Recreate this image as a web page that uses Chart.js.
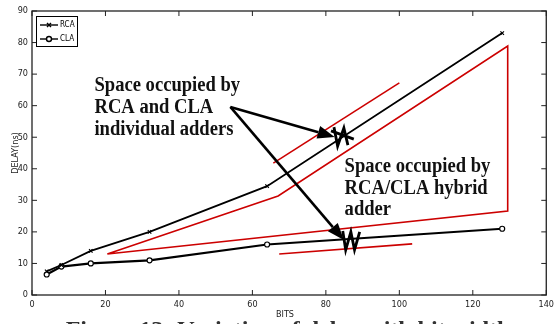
<!DOCTYPE html>
<html><head><meta charset="utf-8">
<script src="https://cdn.jsdelivr.net/npm/chart.js@4/dist/chart.umd.min.js"></script>
<style>html,body{margin:0;padding:0;background:#fff}#wrap{width:558px;height:324px;position:relative}</style>
</head><body><div id="wrap"><canvas id="c" width="558" height="324"></canvas></div>
<script>
// ---- data ----
const bits = [4, 8, 16, 32, 64, 128];
const rcaDelay = [7.5, 9.5, 14, 20, 34.5, 83];
const claDelay = [6.5, 9, 10, 11, 16, 21];
const xTicks = [0, 20, 40, 60, 80, 100, 120, 140];
const yTicks = [0, 10, 20, 30, 40, 50, 60, 70, 80, 90];
const seriesNames = ['RCA', 'CLA'];
const xTitle = 'BITS';
const yTitle = 'DELAY(ns)';
const caption = 'Figure 13: Variation of delay with bit width';
// annotations (data coordinates)
const redHybrid = [[20.5, 13], [67, 31.4], [129.5, 78.9], [129.5, 26.6], [20.5, 13]];
const redUpper = [[65.7, 41.8], [100, 67.2]];
const redLower = [[67.3, 13], [103.5, 16.2]];
const arrowFrom = [54, 59.6];
const arrowTo1 = [82.4, 50.1];
const arrowTo2 = [84.9, 17.4];
const zig1 = [[82.2, 53.2], [83.2, 47.2], [84.9, 52.9], [86.0, 47.5]];
const zig1b = [[81.4, 52.0], [87.6, 49.4]];
const zig2 = [[84.6, 20.3], [85.4, 14.3], [86.8, 20.0], [87.8, 14.3], [89.2, 20.0]];
const text1 = ['Space occupied by', 'RCA and CLA', 'individual adders'];
const text1Pos = [17, 64.6];
const text2 = ['Space occupied by', 'RCA/CLA hybrid', 'adder'];
const text2Pos = [85.1, 39];

const narrow = "'Liberation Sans Narrow','DejaVu Sans Condensed',sans-serif";
const serif = "'Liberation Serif','DejaVu Serif',serif";

const overlay = {
  id: 'overlay',
  afterDraw(chart) {
    const ctx = chart.ctx, a = chart.chartArea;
    const xs = chart.scales.x, ys = chart.scales.y;
    const P = p => [xs.getPixelForValue(p[0]), ys.getPixelForValue(p[1])];
    ctx.save();
    // frame
    ctx.strokeStyle = '#222'; ctx.lineWidth = 1.3;
    ctx.strokeRect(a.left, a.top, a.right - a.left, a.bottom - a.top);
    // inward ticks
    ctx.lineWidth = 1;
    xTicks.forEach(v => { const x = xs.getPixelForValue(v);
      ctx.beginPath(); ctx.moveTo(x, a.bottom); ctx.lineTo(x, a.bottom - 5);
      ctx.moveTo(x, a.top); ctx.lineTo(x, a.top + 5); ctx.stroke(); });
    yTicks.forEach(v => { const y = ys.getPixelForValue(v);
      ctx.beginPath(); ctx.moveTo(a.left, y); ctx.lineTo(a.left + 5, y);
      ctx.moveTo(a.right, y); ctx.lineTo(a.right - 5, y); ctx.stroke(); });
    // axis titles
    ctx.fillStyle = '#222'; ctx.font = '9px ' + narrow;
    ctx.textAlign = 'center'; ctx.textBaseline = 'middle';
    ctx.fillText(xTitle, 285, 315);
    ctx.save(); ctx.translate(16, (a.top + a.bottom) / 2); ctx.rotate(-Math.PI / 2);
    ctx.fillText(yTitle, 0, 0); ctx.restore();
    // legend
    ctx.fillStyle = '#fff'; ctx.fillRect(36, 16, 42, 31);
    ctx.strokeStyle = '#000'; ctx.lineWidth = 1; ctx.strokeRect(36.5, 16.5, 41, 30);
    const ly = [25, 39];
    ly.forEach((y, i) => {
      ctx.strokeStyle = '#000'; ctx.lineWidth = 1.4;
      ctx.beginPath(); ctx.moveTo(40, y); ctx.lineTo(58, y); ctx.stroke();
      if (i === 0) { ctx.beginPath(); ctx.moveTo(47, y - 2); ctx.lineTo(51, y + 2);
        ctx.moveTo(51, y - 2); ctx.lineTo(47, y + 2); ctx.stroke(); }
      else { ctx.fillStyle = '#fff'; ctx.beginPath(); ctx.arc(49, y, 2.5, 0, Math.PI * 2); ctx.fill(); ctx.stroke(); }
      ctx.fillStyle = '#000'; ctx.font = '8px ' + narrow; ctx.textAlign = 'left';
      ctx.fillText(seriesNames[i], 60, y);
    });
    // red shapes
    ctx.strokeStyle = '#cc0000'; ctx.lineWidth = 1.6; ctx.lineJoin = 'miter';
    [redHybrid, redUpper, redLower].forEach(pl => {
      ctx.beginPath(); pl.forEach((p, i) => { const q = P(p); i ? ctx.lineTo(q[0], q[1]) : ctx.moveTo(q[0], q[1]); });
      ctx.stroke(); });
    // arrows
    const arrow = (from, to) => {
      const f = P(from), t = P(to);
      const ang = Math.atan2(t[1] - f[1], t[0] - f[0]);
      const L = 17, W = 6.5;
      const bx = t[0] - L * Math.cos(ang), by = t[1] - L * Math.sin(ang);
      ctx.strokeStyle = '#000'; ctx.lineWidth = 2.6;
      ctx.beginPath(); ctx.moveTo(f[0], f[1]); ctx.lineTo(bx, by); ctx.stroke();
      ctx.fillStyle = '#000'; ctx.beginPath(); ctx.moveTo(t[0], t[1]);
      ctx.lineTo(bx + W * Math.sin(ang), by - W * Math.cos(ang));
      ctx.lineTo(bx - W * Math.sin(ang), by + W * Math.cos(ang)); ctx.closePath(); ctx.fill();
    };
    arrow(arrowFrom, arrowTo1); arrow(arrowFrom, arrowTo2);
    // zigzags
    ctx.strokeStyle = '#000'; ctx.lineWidth = 2.8; ctx.lineJoin = 'miter';
    [zig1, zig1b, zig2].forEach(pl => {
      ctx.beginPath(); pl.forEach((p, i) => { const q = P(p); i ? ctx.lineTo(q[0], q[1]) : ctx.moveTo(q[0], q[1]); });
      ctx.stroke(); });
    // texts (slightly stretched vertically like the reference)
    ctx.fillStyle = '#111'; ctx.font = 'bold 18.6px ' + serif; ctx.textAlign = 'left'; ctx.textBaseline = 'alphabetic';
    const block = (lines, pos) => { const q = P(pos);
      lines.forEach((s, i) => { ctx.save(); ctx.translate(q[0], q[1] + i * 21.7); ctx.scale(1, 1.12);
        ctx.fillText(s, 0, 0); ctx.restore(); }); };
    block(text1, text1Pos); block(text2, text2Pos);
    // caption (mostly clipped by canvas bottom)
    ctx.font = 'bold 24px ' + serif; ctx.textAlign = 'center'; ctx.fillStyle = '#333';
    ctx.fillText(caption, 288, 337);
    ctx.restore();
  }
};

new Chart(document.getElementById('c'), {
  type: 'line',
  data: {
    datasets: [
      { label: seriesNames[0], data: bits.map((b, i) => ({ x: b, y: rcaDelay[i] })),
        borderColor: '#000', borderWidth: 1.8, pointStyle: 'crossRot', pointRadius: 2.5,
        pointBorderColor: '#000', pointBorderWidth: 1.2, tension: 0 },
      { label: seriesNames[1], data: bits.map((b, i) => ({ x: b, y: claDelay[i] })),
        borderColor: '#000', borderWidth: 2.2, pointStyle: 'circle', pointRadius: 2.5,
        pointBackgroundColor: '#fff', pointBorderColor: '#000', pointBorderWidth: 1.2, tension: 0 }
    ]
  },
  options: {
    responsive: false, animation: false, devicePixelRatio: 1,
    layout: { padding: { left: 0, right: 8, top: 11, bottom: 0 } },
    plugins: { legend: { display: false }, tooltip: { enabled: false } },
    scales: {
      x: { type: 'linear', min: 0, max: 140, afterFit: s => { s.height = 29; },
        afterBuildTicks: s => { s.ticks = xTicks.map(v => ({ value: v })); },
        grid: { display: false, drawTicks: false }, border: { display: false },
        ticks: { padding: 4, color: '#222', font: { family: narrow, size: 9 } } },
      y: { min: 0, max: 90, afterFit: s => { s.width = 32; },
        afterBuildTicks: s => { s.ticks = yTicks.map(v => ({ value: v })); },
        grid: { display: false, drawTicks: false }, border: { display: false },
        ticks: { padding: 4, color: '#222', font: { family: narrow, size: 9 } } }
    }
  },
  plugins: [overlay]
});
</script></body></html>
